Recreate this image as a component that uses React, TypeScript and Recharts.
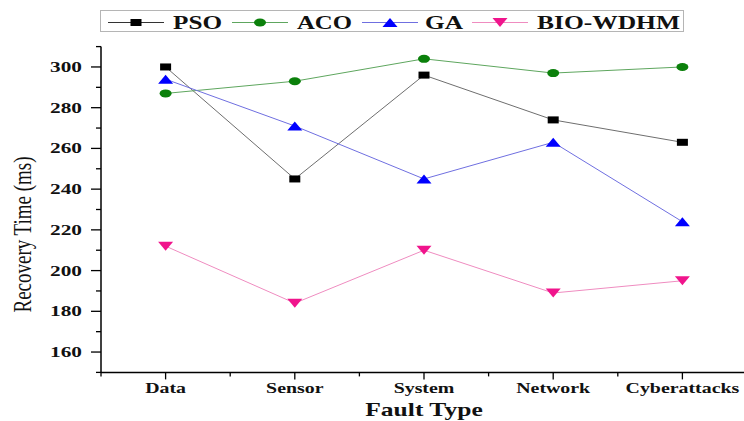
import React from 'react';
import { LineChart, Line, XAxis, YAxis } from 'recharts';

const categories = ['Data', 'Sensor', 'System', 'Network', 'Cyberattacks'];
const pso = [300, 245, 296, 274, 263];
const aco = [287, 293, 304, 297, 300];
const ga = [294, 271, 245, 263, 224];
const bio = [212, 184, 210, 189, 195];
const yTicks = [150, 160, 170, 180, 190, 200, 210, 220, 230, 240, 250, 260, 270, 280, 290, 300, 310];
const xTicks = [0.5, 1, 1.5, 2, 2.5, 3, 3.5, 4, 4.5, 5, 5.5];
const seriesNames = ['PSO', 'ACO', 'GA', 'BIO-WDHM'];

const data = categories.map((c, i) => ({
  x: i + 1,
  name: c,
  pso: pso[i],
  aco: aco[i],
  ga: ga[i],
  bio: bio[i],
}));

const FONT = '"Liberation Serif", "Times New Roman", serif';
const SX = 1.42;

const markerColors = ['#000000', '#0b800b', '#0000ff', '#f0148c'];
const lineColors = ['#6e6e6e', '#5ea65e', '#6f6fe0', '#ef8cc0'];

function Marker({ kind, cx, cy, color }: { kind: number; cx: number; cy: number; color: string }) {
  if (cx == null || cy == null) return null;
  if (kind === 0) return <rect x={cx - 5.5} y={cy - 3.5} width={11} height={7} fill={color} />;
  if (kind === 1) return <ellipse cx={cx} cy={cy} rx={6} ry={4} fill={color} />;
  if (kind === 2)
    return <polygon points={`${cx - 7.5},${cy + 4.5} ${cx + 7.5},${cy + 4.5} ${cx},${cy - 4.5}`} fill={color} />;
  return <polygon points={`${cx - 7.5},${cy - 4.5} ${cx + 7.5},${cy - 4.5} ${cx},${cy + 4.5}`} fill={color} />;
}

const makeDot = (kind: number) => (p: any) => (
  <Marker key={`d${kind}-${p.index}`} kind={kind} cx={p.cx} cy={p.cy} color={markerColors[kind]} />
);

function XTick(props: any) {
  const { x, y, payload } = props;
  const v = payload.value;
  const major = Number.isInteger(v);
  return (
    <g>
      <line x1={x} x2={x} y1={y} y2={y + (major ? 7 : 4)} stroke="#000" strokeWidth={1.3} />
      {major && (
        <text
          transform={`translate(${x},${y + 21}) scale(${SX},1)`}
          textAnchor="middle"
          fontFamily={FONT}
          fontWeight="bold"
          fontSize={14}
          fill="#111"
        >
          {categories[v - 1]}
        </text>
      )}
    </g>
  );
}

function YTick(props: any) {
  const { x, y, payload } = props;
  const v = payload.value;
  const major = v % 20 === 0;
  return (
    <g>
      <line x1={x - (major ? 10 : 5)} x2={x} y1={y} y2={y} stroke="#000" strokeWidth={1.3} />
      {major && (
        <text
          transform={`translate(${x - 19},${y + 5}) scale(${SX},1)`}
          textAnchor="end"
          fontFamily={FONT}
          fontWeight="bold"
          fontSize={15}
          fill="#111"
        >
          {v}
        </text>
      )}
    </g>
  );
}

const YLabel = (props: any) => {
  const vb = props.viewBox || { x: 41, y: 46.6, width: 60, height: 326 };
  const cx = vb.x - 18;
  const cy = vb.y + vb.height / 2 + 25;
  return (
    <text
      transform={`translate(${cx},${cy}) scale(1.3,1) rotate(-90)`}
      textAnchor="middle"
      dominantBaseline="central"
      fontFamily={FONT}
      fontSize={19}
      fill="#111"
    >
      Recovery Time (ms)
    </text>
  );
};

const XLabel = (props: any) => {
  const vb = props.viewBox || { x: 101, y: 372.4, width: 646, height: 30 };
  const cx = vb.x + vb.width / 2;
  const cy = vb.y + 43.6;
  return (
    <text
      transform={`translate(${cx},${cy}) scale(${SX},1)`}
      textAnchor="middle"
      fontFamily={FONT}
      fontWeight="bold"
      fontSize={18}
      fill="#111"
    >
      Fault Type
    </text>
  );
};

const legendItems = [
  { lineStart: 8, textStart: 73, textLen: 49 },
  { lineStart: 132, textStart: 197, textLen: 55 },
  { lineStart: 262, textStart: 325, textLen: 38 },
  { lineStart: 372, textStart: 437, textLen: 143 },
];

function LegendBox() {
  return (
    <svg width={585} height={23} style={{ position: 'absolute', left: 100, top: 10 }}>
      <rect x={0.5} y={0.5} width={583} height={21} fill="#fff" stroke="#b5b5b5" strokeWidth={1} />
      {legendItems.map((it, k) => (
        <g key={k}>
          <line x1={it.lineStart} x2={it.lineStart + 56} y1={12.5} y2={12.5} stroke={k === 0 ? '#333' : lineColors[k]} strokeWidth={1} />
          <Marker kind={k} cx={it.lineStart + 28} cy={12.5} color={markerColors[k]} />
          <text
            x={it.textStart}
            y={18.5}
            textLength={it.textLen}
            lengthAdjust="spacingAndGlyphs"
            fontFamily={FONT}
            fontWeight="bold"
            fontSize={18}
            fill="#111"
          >
            {seriesNames[k]}
          </text>
        </g>
      ))}
    </svg>
  );
}

export default function App() {
  return (
    <div style={{ position: 'absolute', left: 0, top: 0, width: 744, height: 421, overflow: 'hidden', background: '#fff' }}>
      <LineChart width={760} height={421} data={data} margin={{ top: 46.6, right: 13, left: 41, bottom: 18.6 }}>
        <XAxis
          type="number"
          dataKey="x"
          domain={[0.5, 5.5]}
          ticks={xTicks}
          interval={0}
          allowDataOverflow
          tickSize={0}
          tickMargin={0}
          tickLine={false}
          tick={<XTick />}
          axisLine={{ stroke: '#000', strokeWidth: 1.5 }}
          label={<XLabel />}
        />
        <YAxis
          type="number"
          domain={[150, 310]}
          ticks={yTicks}
          interval={0}
          allowDataOverflow
          width={60}
          tickSize={0}
          tickMargin={0}
          tickLine={false}
          tick={<YTick />}
          axisLine={{ stroke: '#000', strokeWidth: 1.5 }}
          label={<YLabel />}
        />
        <Line dataKey="pso" stroke={lineColors[0]} strokeWidth={1} dot={makeDot(0)} activeDot={false} isAnimationActive={false} />
        <Line dataKey="aco" stroke={lineColors[1]} strokeWidth={1} dot={makeDot(1)} activeDot={false} isAnimationActive={false} />
        <Line dataKey="ga" stroke={lineColors[2]} strokeWidth={1} dot={makeDot(2)} activeDot={false} isAnimationActive={false} />
        <Line dataKey="bio" stroke={lineColors[3]} strokeWidth={1} dot={makeDot(3)} activeDot={false} isAnimationActive={false} />
      </LineChart>
      <LegendBox />
    </div>
  );
}
